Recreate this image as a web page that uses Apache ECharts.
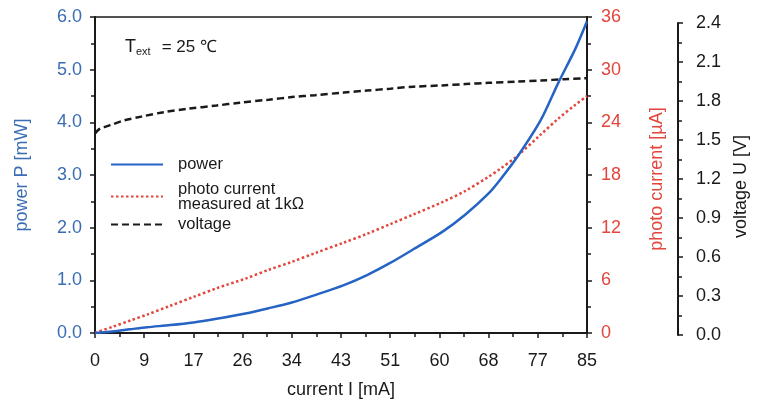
<!DOCTYPE html>
<html>
<head>
<meta charset="utf-8">
<script src="https://cdn.jsdelivr.net/npm/echarts@6/dist/echarts.min.js"></script>
<style>html,body{margin:0;padding:0;background:#fff}#c{width:763px;height:406px}</style>
</head>
<body>
<div id="c"></div>
<script>
// current I [mA]
const currentX = [0, 3, 6, 9, 13, 17, 21, 26, 30, 34, 38, 43, 47, 51, 55, 60, 64, 68, 70, 73, 77, 80, 83, 85];
// power P [mW]
const powerP = [0, 0.03, 0.07, 0.11, 0.15, 0.2, 0.27, 0.37, 0.47, 0.58, 0.72, 0.91, 1.1, 1.33, 1.59, 1.92, 2.25, 2.65, 2.91, 3.35, 4.04, 4.74, 5.4, 5.92];
// photo current [µA]
const photoI = [0, 0.7, 1.4, 2.1, 3.1, 4.1, 5.1, 6.2, 7.2, 8.1, 9.1, 10.3, 11.3, 12.4, 13.5, 14.9, 16.2, 17.8, 18.7, 20.2, 22.6, 24.4, 26.0, 27.0];
// voltage curve: current I [mA] and voltage U [V]
const voltX = [0, 0.5, 1, 2, 3, 5, 8, 12, 16, 21, 25, 30, 34, 38, 43, 47, 51, 55, 60, 64, 68, 73, 77, 81, 85];
const voltU = [1.55, 1.575, 1.59, 1.605, 1.62, 1.65, 1.68, 1.715, 1.74, 1.765, 1.787, 1.81, 1.83, 1.845, 1.865, 1.88, 1.895, 1.91, 1.92, 1.93, 1.94, 1.95, 1.958, 1.967, 1.975];

const FONT = 'Liberation Sans, Arial, sans-serif';
const BLUE = '#2563c4', BLUE_T = '#3b6db5', RED = '#e2463c', BLACK = '#1a1a1a';
const NAME_POWER = 'power', NAME_PHOTO = 'photo current\nmeasured at 1kΩ', NAME_VOLT = 'voltage';

const chart = echarts.init(document.getElementById('c'), null, {renderer: 'canvas'});
const tick = (len) => ({show: true, inside: false, length: len, lineStyle: {color: BLACK, width: 1.5}});
const minor = {show: true, splitNumber: 2, length: 4, lineStyle: {color: BLACK, width: 1.5}};
const axLine = {show: true, onZero: false, lineStyle: {color: BLACK, width: 2}};
const leg = (name, top) => ({
  orient: 'vertical', left: 110, top: top, padding: 0,
  itemWidth: 52, itemHeight: 14,
  itemStyle: {opacity: 0},
  textStyle: {fontFamily: FONT, fontSize: 16.5, color: BLACK, lineHeight: 15, padding: [0, 0, 0, 10]},
  data: [name]
});
chart.setOption({
  animation: false,
  backgroundColor: '#fff',
  grid: [
    {left: 95, right: 176, top: 17, bottom: 73, show: true, borderColor: BLACK, borderWidth: 1.5},
    {left: 95, right: 176, top: 23, bottom: 71, show: false}
  ],
  legend: [leg(NAME_POWER, 156), leg(NAME_PHOTO, 180.5), leg(NAME_VOLT, 216)],
  graphic: [{
    type: 'text', left: 125, top: 38,
    style: {
      text: '{t|T}{s|ext}{n|= 25 ℃}',
      rich: {
        t: {fontFamily: FONT, fontSize: 18, fill: BLACK},
        s: {fontFamily: FONT, fontSize: 11, fill: BLACK, padding: [9, 0, 0, 0]},
        n: {fontFamily: FONT, fontSize: 17, fill: BLACK, padding: [0, 0, 0, 11]}
      }
    }
  }],
  xAxis: [{
    type: 'value', gridIndex: 0, min: 0, max: 85, interval: 8.5,
    name: 'current I [mA]', nameLocation: 'middle', nameGap: 48,
    nameTextStyle: {fontFamily: FONT, fontSize: 18, color: BLACK},
    axisLine: axLine, axisTick: tick(5), minorTick: minor,
    splitLine: {show: false},
    axisLabel: {fontFamily: FONT, fontSize: 18, color: BLACK, margin: 19, formatter: v => String(Math.round(v))}
  }, {
    type: 'value', gridIndex: 1, min: 0, max: 85, show: false
  }],
  yAxis: [{
    type: 'value', gridIndex: 0, position: 'left', min: 0, max: 6, interval: 1,
    name: 'power P [mW]', nameLocation: 'middle', nameGap: 64,
    nameTextStyle: {fontFamily: FONT, fontSize: 18, color: BLUE_T},
    axisLine: axLine, axisTick: tick(5), minorTick: minor,
    splitLine: {show: false},
    axisLabel: {fontFamily: FONT, fontSize: 18, color: BLUE_T, margin: 13, formatter: v => v.toFixed(1)}
  }, {
    type: 'value', gridIndex: 0, position: 'right', min: 0, max: 36, interval: 6,
    name: 'photo current [µA]', nameLocation: 'middle', nameGap: 61,
    nameTextStyle: {fontFamily: FONT, fontSize: 18, color: RED, padding: [0, 8, 0, 0]},
    axisLine: axLine, axisTick: tick(5), minorTick: minor,
    splitLine: {show: false},
    axisLabel: {fontFamily: FONT, fontSize: 18, color: RED, margin: 14}
  }, {
    type: 'value', gridIndex: 1, position: 'right', offset: 91, min: 0, max: 2.4, interval: 0.3,
    name: 'voltage U [V]', nameLocation: 'middle', nameGap: 52,
    nameTextStyle: {fontFamily: FONT, fontSize: 18, color: BLACK, padding: [0, 15, 0, 0]},
    axisLine: axLine, axisTick: tick(5), minorTick: minor,
    splitLine: {show: false},
    axisLabel: {fontFamily: FONT, fontSize: 18, color: BLACK, margin: 18, formatter: v => v.toFixed(1)}
  }],
  series: [{
    name: NAME_POWER, type: 'line', xAxisIndex: 0, yAxisIndex: 0, symbol: 'none', smooth: 0.3,
    data: currentX.map((x, i) => [x, powerP[i]]),
    lineStyle: {color: BLUE, width: 2.5}, itemStyle: {color: BLUE}, z: 3
  }, {
    name: NAME_PHOTO, type: 'line', xAxisIndex: 0, yAxisIndex: 1, symbol: 'none', smooth: 0.3,
    data: currentX.map((x, i) => [x, photoI[i]]),
    lineStyle: {color: RED, width: 2.5, type: [2.5, 2.5]}, itemStyle: {color: RED}, z: 2
  }, {
    name: NAME_VOLT, type: 'line', xAxisIndex: 1, yAxisIndex: 2, symbol: 'none', smooth: 0.3,
    data: voltX.map((x, i) => [x, voltU[i]]),
    lineStyle: {color: BLACK, width: 2.5, type: [7, 4]}, itemStyle: {color: BLACK}, z: 2
  }]
});
</script>
</body>
</html>
